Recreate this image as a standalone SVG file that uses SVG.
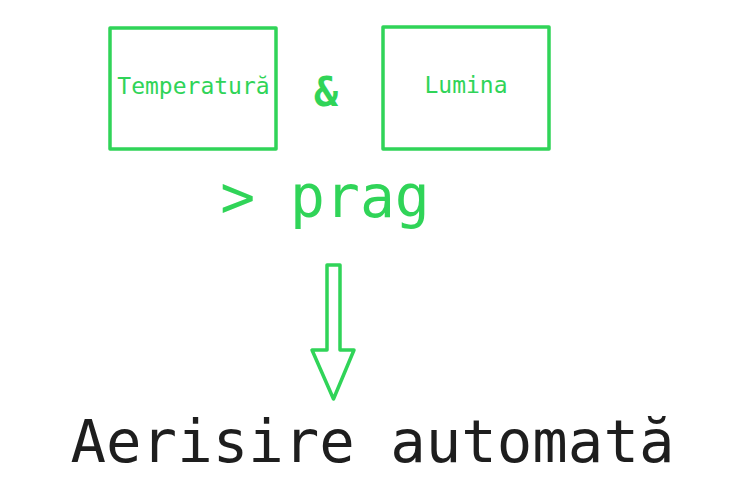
<svg xmlns="http://www.w3.org/2000/svg" width="736" height="498" viewBox="0 0 736 498">
<style>
.box{fill:none;stroke:#30d458;stroke-width:3.5;stroke-linejoin:round}
.g{fill:#30d458;font-family:"DejaVu Sans Mono","Liberation Mono",monospace;text-anchor:middle}
.k{fill:#1e1e1e;font-family:"DejaVu Sans Mono","Liberation Mono",monospace;text-anchor:middle}
</style>
<rect width="736" height="498" fill="#ffffff"/>
<g id="temperatura">
<rect class="box" x="110" y="28" width="166" height="121"/>
<text class="g" x="193.5" y="94" font-size="23">Temperatură</text>
</g>
<g id="and">
<text class="g" x="326" y="106" font-size="40" font-weight="bold">&amp;</text>
</g>
<g id="lumina">
<rect class="box" x="383" y="27" width="166" height="122"/>
<text class="g" x="466" y="93" font-size="23">Lumina</text>
</g>
<g id="prag">
<text class="g" x="325" y="217" font-size="58">&gt; prag</text>
</g>
<g id="connectors">
<polygon class="box" points="327,265 340,265 340,350 354,350 333.5,399 312,350 327,350"/>
</g>
<g id="aerisire">
<text class="k" x="372.5" y="462" font-size="59">Aerisire automată</text>
</g>
</svg>
